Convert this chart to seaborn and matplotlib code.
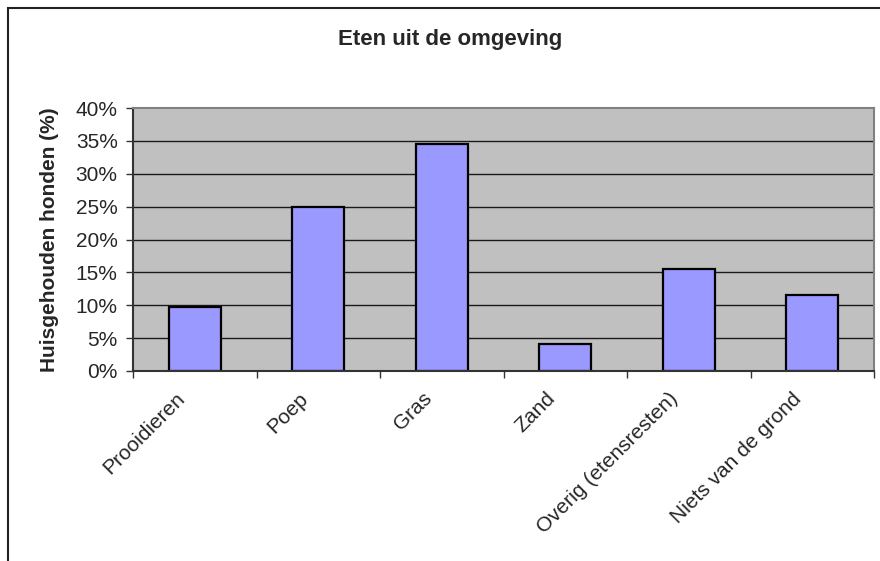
import matplotlib
matplotlib.use("Agg")
import matplotlib.pyplot as plt
import seaborn as sns
import pandas as pd
from matplotlib.patches import Rectangle
from matplotlib.ticker import PercentFormatter
from matplotlib.transforms import ScaledTranslation

categories = ["Prooidieren", "Poep", "Gras", "Zand", "Overig (etensresten)", "Niets van de grond"]
values = [0.098, 0.249, 0.346, 0.041, 0.155, 0.115]
title = "Eten uit de omgeving"
ylabel = "Huisgehouden honden (%)"
yticks = [0, 0.05, 0.10, 0.15, 0.20, 0.25, 0.30, 0.35, 0.40]

sns.set_style("white")
plt.rcParams['font.family'] = ['Liberation Sans', 'DejaVu Sans']

df = pd.DataFrame({"cat": categories, "val": values})

fig = plt.figure(figsize=(8.8, 5.61), dpi=100)
ax = fig.add_axes([133/880, 1 - 371/561, (874 - 133)/880, (371 - 108)/561])
ax.set_facecolor("#C0C0C0")

sns.barplot(data=df, x="cat", y="val", ax=ax, color="#9999FF", width=0.42,
            edgecolor="black", linewidth=1.6, saturation=1, zorder=3)

ax.set_xlim(-0.5, len(categories) - 0.5)
ax.set_ylim(0, 0.40)
ax.set_yticks(yticks)
ax.yaxis.set_major_formatter(PercentFormatter(1.0, decimals=0))
for y in yticks[1:-1]:
    ax.axhline(y, color="#1a1a1a", lw=1.0, zorder=1)

ax.set_xticks([i + 0.5 for i in range(-1, len(categories))], minor=True)
ax.set_xticks(range(len(categories)))
ax.tick_params(axis="x", which="major", length=0, pad=13)
ax.tick_params(axis="x", which="minor", length=5, width=1, color="#333333", direction="out")
ax.tick_params(axis="y", length=5, width=1, color="#333333", direction="out", labelsize=15, pad=6)
ax.tick_params(left=True, bottom=True)
ax.xaxis.set_tick_params(which="minor", bottom=True)

for side in ["top", "right"]:
    ax.spines[side].set_color("#808080")
    ax.spines[side].set_linewidth(1.5)
for side in ["left", "bottom"]:
    ax.spines[side].set_color("#333333")
    ax.spines[side].set_linewidth(1.5)
ax.spines["bottom"].set_zorder(4)

ax.set_xlabel("")
ax.set_ylabel(ylabel, fontsize=15, fontweight="bold", labelpad=12)

fig.text(450/880, 1 - 39/561, title, ha="center", va="center", fontsize=16, fontweight="bold")

fig.add_artist(Rectangle((8/880, -0.2), 1.5, 1.2 - 8/561, transform=fig.transFigure,
                         fill=False, edgecolor="#222222", linewidth=1.5))

# category labels, set last so their offset is kept
ax.set_xticklabels(categories, rotation=45, ha="right", va="top",
                   rotation_mode="anchor", fontsize=15)
shift = ScaledTranslation(-20/100, 0, fig.dpi_scale_trans)
for tick in ax.xaxis.get_major_ticks():
    tick.label1.set_transform(tick.label1.get_transform() + shift)

fig.savefig("out.png", dpi=100)
